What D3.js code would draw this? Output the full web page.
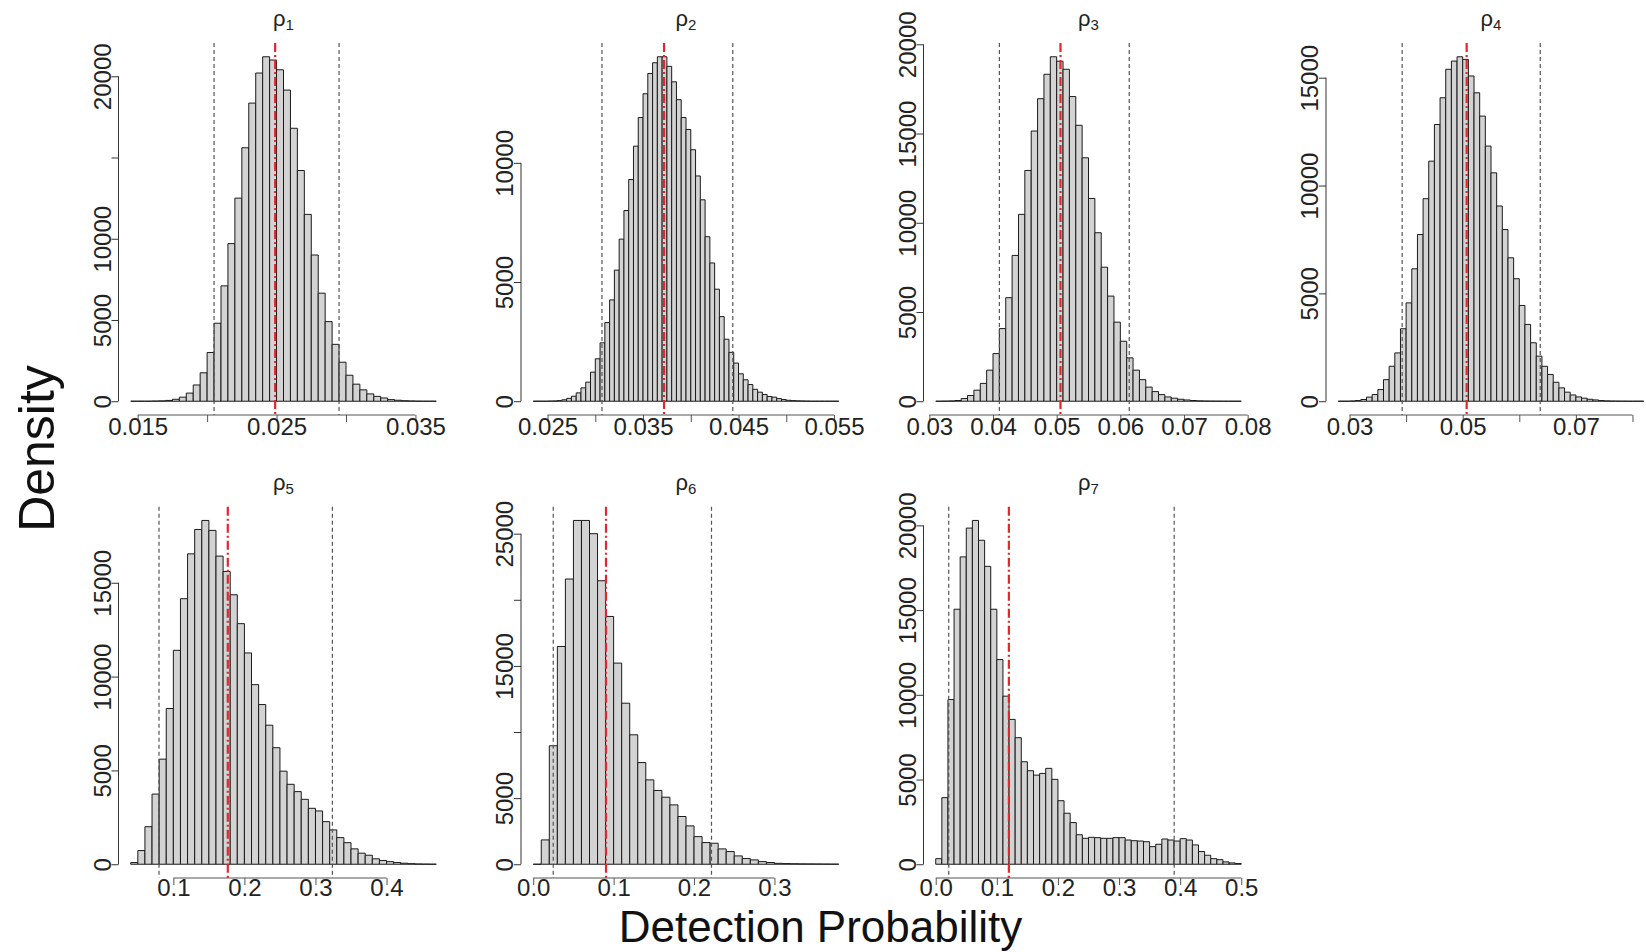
<!DOCTYPE html>
<html><head><meta charset="utf-8">
<script src="https://cdn.jsdelivr.net/npm/d3@7/dist/d3.min.js"></script>
<style>
body{margin:0;background:#fff}
text{font-family:"Liberation Sans",Arial,Helvetica,sans-serif}
</style>
</head><body>
<svg id="chart" width="1646" height="952"></svg>
<script>
// ---- data ----
const titles = ["1","2","3","4","5","6","7"];
const binStart = [0.0145, 0.0235, 0.031, 0.028, 0.04, 0.0, 0.0];
const binWidth = [0.0005, 0.0005, 0.001, 0.001, 0.01, 0.01, 0.01];

const counts1 = [0,0,0,10,20,50,120,250,500,1000,1750,3000,4800,7100,9700,12500,15600,18350,20200,21200,21000,20400,19150,16800,14200,11500,9000,6650,4900,3500,2400,1600,1050,700,450,300,200,100,60,30,15,5,0,0];
const counts2 = [0,0,0,5,10,25,60,120,210,350,560,800,1220,1780,2450,3300,4250,5500,6800,8000,9300,10700,11900,12900,13750,14200,14450,14450,14050,13400,12650,11900,11400,10550,9450,8450,6900,5800,4700,3550,2600,2050,1600,1150,900,700,500,380,280,200,170,110,70,40,25,15,10,5,0,0,0,0,0,0];
const counts3 = [0,5,15,40,150,320,620,1000,1740,2670,4070,5800,8170,10470,12930,15140,16950,18320,19300,19050,18600,17070,15460,13640,11360,9440,7510,5890,4430,3360,2430,1740,1210,790,540,370,240,170,110,70,40,20,10,5,2,0,0,0];
const counts4 = [0,0,10,30,80,190,310,540,1000,1620,2240,3360,4560,6140,7730,9390,11130,12830,14070,15390,15770,15970,15850,15080,14300,13220,11830,10590,9050,7960,6650,5680,4440,3560,2710,2090,1620,1240,880,620,420,290,200,140,90,60,30,15,8,4,2,0,0,0];
const counts5 = [90,730,2000,3740,5600,8300,11400,14150,16540,17840,18320,17790,16420,15600,14360,12820,11260,9570,8510,7410,6210,4960,4260,3870,3460,2980,2840,2270,1830,1420,1150,820,590,480,290,200,140,90,55,30,15,8,3];
const counts6 = [0,1840,8960,16470,21570,26000,26000,25000,21440,18740,15210,12180,9790,7690,6380,5580,5070,4490,3610,2900,2090,1640,1590,1160,960,630,430,330,200,130,70,50,40,30,25,20,15,10];
const counts7 = [330,3930,9720,15050,18140,19840,20290,19120,17580,15050,12080,9920,8550,7470,6050,5520,5260,5360,5660,5010,3750,3010,2460,1740,1530,1590,1570,1530,1530,1570,1570,1430,1390,1370,1330,1040,1180,1490,1430,1370,1510,1430,1140,750,530,330,270,140,80,40];

const ciLow  = [0.0205, 0.0307, 0.0410, 0.0393, 0.0798, 0.0249, 0.0213];
const ciHigh = [0.0295, 0.0444, 0.0614, 0.0637, 0.3238, 0.2217, 0.3902];
const centers = [0.0249, 0.0372, 0.0506, 0.0507, 0.1766, 0.0905, 0.1197];

const xTicks1 = [0.015,0.020,0.025,0.030,0.035], xLabels1 = ["0.015","","0.025","","0.035"];
const xTicks2 = [0.025,0.030,0.035,0.040,0.045,0.050,0.055], xLabels2 = ["0.025","","0.035","","0.045","","0.055"];
const xTicks3 = [0.03,0.04,0.05,0.06,0.07,0.08], xLabels3 = ["0.03","0.04","0.05","0.06","0.07","0.08"];
const xTicks4 = [0.03,0.04,0.05,0.06,0.07,0.08], xLabels4 = ["0.03","","0.05","","0.07",""];
const xTicks5 = [0.1,0.2,0.3,0.4], xLabels5 = ["0.1","0.2","0.3","0.4"];
const xTicks6 = [0.0,0.1,0.2,0.3], xLabels6 = ["0.0","0.1","0.2","0.3"];
const xTicks7 = [0.0,0.1,0.2,0.3,0.4,0.5], xLabels7 = ["0.0","0.1","0.2","0.3","0.4","0.5"];

const yTicks1 = [0,5000,10000,15000,20000], yLabels1 = ["0","5000","10000","","20000"];
const yTicks2 = [0,5000,10000], yLabels2 = ["0","5000","10000"];
const yTicks3 = [0,5000,10000,15000,20000], yLabels3 = ["0","5000","10000","15000","20000"];
const yTicks4 = [0,5000,10000,15000], yLabels4 = ["0","5000","10000","15000"];
const yTicks5 = [0,5000,10000,15000], yLabels5 = ["0","5000","10000","15000"];
const yTicks6 = [0,5000,10000,15000,20000,25000], yLabels6 = ["0","5000","","15000","","25000"];
const yTicks7 = [0,5000,10000,15000,20000], yLabels7 = ["0","5000","10000","15000","20000"];

const xLabelText = "Detection Probability";
const yLabelText = "Density";

// ---- assembled ----
const panels = titles.map((t, i) => ({
  title: t,
  start: binStart[i], width: binWidth[i],
  counts: [counts1,counts2,counts3,counts4,counts5,counts6,counts7][i],
  lo: ciLow[i], hi: ciHigh[i], center: centers[i],
  xTicks: [xTicks1,xTicks2,xTicks3,xTicks4,xTicks5,xTicks6,xTicks7][i],
  xLabels: [xLabels1,xLabels2,xLabels3,xLabels4,xLabels5,xLabels6,xLabels7][i],
  yTicks: [yTicks1,yTicks2,yTicks3,yTicks4,yTicks5,yTicks6,yTicks7][i],
  yLabels: [yLabels1,yLabels2,yLabels3,yLabels4,yLabels5,yLabels6,yLabels7][i]
}));

// ---- layout ----
const svg = d3.select("#chart");
const colX = c => 118.5 + 402.5 * c;
const plotW = 330;
const rowT = [43, 506.7], rowB = [415, 878], rowLabelDy = [20, 17.5];
const axisColor = "#333";
const tickFont = 24;

panels.forEach((p, i) => {
  const col = i % 4, row = Math.floor(i / 4);
  const L = colX(col), T = rowT[row], B = rowB[row];
  const n = p.counts.length;
  const a = p.start, b = p.start + n * p.width;
  const ext = 0.04 * (b - a);
  const x = d3.scaleLinear().domain([a - ext, b + ext]).range([L, L + plotW]);
  const ymax = d3.max(p.counts);
  const y = d3.scaleLinear().domain([-0.04 * ymax, 1.04 * ymax]).range([B, T]);
  const g = svg.append("g");

  // bars
  const bins = p.counts.map((c, k) => ({x0: p.start + k * p.width, x1: p.start + (k + 1) * p.width, c}));
  g.selectAll("path.bar").data(bins).enter().append("path")
    .attr("class", "bar")
    .attr("d", d => `M${x(d.x0)},${y(0)}V${y(d.c)}H${x(d.x1)}V${y(0)}Z`)
    .attr("fill", "#d3d3d3").attr("stroke", "#1a1a1a").attr("stroke-width", 1);

  // CI lines
  [p.lo, p.hi].forEach(v => {
    g.append("line").attr("x1", x(v)).attr("x2", x(v)).attr("y1", T).attr("y2", B)
      .attr("stroke", "#555").attr("stroke-width", 1.2).attr("stroke-dasharray", "4,3");
  });
  // center line
  g.append("line").attr("x1", x(p.center)).attr("x2", x(p.center)).attr("y1", T).attr("y2", B)
    .attr("stroke", "#e3262b").attr("stroke-width", 2.2).attr("stroke-dasharray", "9,3,2,3");

  // x axis (R-style, at bottom of plot region)
  const xa = d3.axisBottom(x).tickValues(p.xTicks).tickSize(7).tickFormat((d, k) => p.xLabels[k]);
  const gx = g.append("g").attr("transform", `translate(0,${B})`).call(xa);
  gx.select(".domain").attr("d", `M${x(p.xTicks[0])},0H${x(p.xTicks[p.xTicks.length - 1])}`).attr("stroke", "#555");
  gx.selectAll(".tick line").attr("stroke", "#555");
  gx.selectAll(".tick text").attr("font-size", tickFont).attr("fill", "#222")
    .attr("font-family", '"Liberation Sans",Arial,sans-serif').attr("y", 0).attr("dy", rowLabelDy[row]);

  // y axis
  const ya = d3.axisLeft(y).tickValues(p.yTicks).tickSize(7).tickFormat((d, k) => p.yLabels[k]);
  const gy = g.append("g").attr("transform", `translate(${L},0)`).call(ya);
  gy.select(".domain").attr("d", `M0,${y(p.yTicks[0])}V${y(p.yTicks[p.yTicks.length - 1])}`).attr("stroke", axisColor);
  gy.selectAll(".tick line").attr("stroke", axisColor);
  gy.selectAll(".tick text").attr("font-size", tickFont).attr("fill", "#222")
    .attr("font-family", '"Liberation Sans",Arial,sans-serif')
    .attr("x", 0).attr("dy", 0)
    .attr("text-anchor", "middle")
    .attr("transform", "translate(-8,0) rotate(-90)");

  // title
  const tt = g.append("text").attr("x", L + plotW / 2).attr("y", T - 17)
    .attr("text-anchor", "middle").attr("font-size", 22).attr("fill", "#222");
  tt.append("tspan").text("ρ");
  tt.append("tspan").attr("font-size", 15).attr("dy", 4).text(p.title);
});

svg.append("text").attr("x", 820.5).attr("y", 942).attr("text-anchor", "middle")
  .attr("font-size", 44).attr("fill", "#111").text(xLabelText);
svg.append("text").attr("transform", "translate(54,448.5) rotate(-90)").attr("text-anchor", "middle")
  .attr("font-size", 50).attr("fill", "#111").text(yLabelText);
</script>
</body></html>
